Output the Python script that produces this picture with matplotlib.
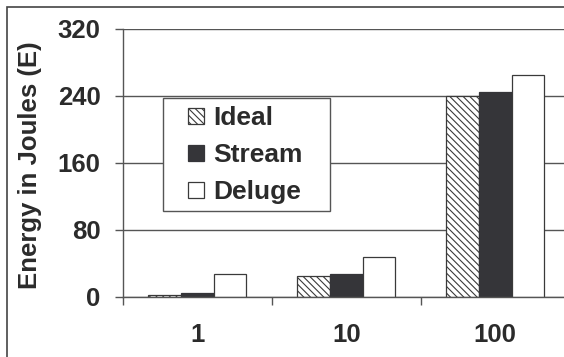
import numpy as np
import matplotlib
matplotlib.use("Agg")
import matplotlib.pyplot as plt
import matplotlib.patches as ptch

plt.rcParams['font.family'] = ['Liberation Sans', 'DejaVu Sans']
plt.rcParams['font.weight'] = 'bold'
plt.rcParams['axes.labelweight'] = 'bold'
plt.rcParams['hatch.linewidth'] = 0.8

# data
categories = ['1', '10', '100']
series = ['Ideal', 'Stream', 'Deluge']
ideal = [2, 25, 240]
stream = [5, 27, 244]
deluge = [27, 48, 265]
y_ticks = [0, 80, 160, 240, 320]

txt = '#2b2b2b'
line = '#555555'

fig = plt.figure(figsize=(5.64, 3.57), dpi=100)
ax = fig.add_axes([0.2176, 0.1689, 1.0101 - 0.2176, 0.9196 - 0.1689])

x = np.arange(len(categories))
w = 0.22
ax.bar(x - w, ideal, w, color='white', edgecolor='#3a3a3a', hatch='\\\\\\\\\\',
       linewidth=0.9, label=series[0], zorder=2)
ax.bar(x, stream, w, color='#353539', edgecolor='#353539',
       linewidth=0.9, label=series[1], zorder=2)
ax.bar(x + w, deluge, w, color='white', edgecolor='#3a3a3a',
       linewidth=0.9, label=series[2], zorder=2)

ax.set_xlim(-0.5, 2.5)
ax.set_ylim(0, 320)
ax.set_yticks(y_ticks)
ax.set_xticks(x)
ax.set_xticklabels(categories)
ax.set_xticks([-0.5, 0.5, 1.5, 2.5], minor=True)
ax.tick_params(axis='x', which='major', length=0, pad=19, labelsize=18.5, labelcolor=txt)
ax.tick_params(axis='x', which='minor', length=6, width=1, color=line)
ax.tick_params(axis='y', length=6, width=1, color=line, pad=10, labelsize=18.5, labelcolor=txt)

ax.set_axisbelow(True)
ax.yaxis.grid(True, color=line, linewidth=1)
for s in ['top', 'right']:
    ax.spines[s].set_visible(False)
for s in ['left', 'bottom']:
    ax.spines[s].set_color(line)
    ax.spines[s].set_linewidth(1)

ax.set_ylabel('Energy in Joules (E)', fontsize=18.5, color=txt)
ax.yaxis.set_label_coords(-0.18, 0.49)

# legend frame drawn as a box, entries on top
ax.add_patch(ptch.Rectangle((0.090, 0.320), 0.374, 0.421, transform=ax.transAxes,
                            facecolor='white', edgecolor=line, linewidth=1, zorder=3))
leg = ax.legend(loc='upper left', bbox_to_anchor=(0.146, 0.712), frameon=False,
                fontsize=19, handlelength=0.62, handleheight=0.55, handletextpad=0.35,
                labelspacing=0.5, borderpad=0, borderaxespad=0)
leg.set_zorder(5)
for t in leg.get_texts():
    t.set_color(txt)

# outer border of the picture
fig.patches.append(ptch.Rectangle((0.013, -0.1), 1.2, 0.981 + 0.1, transform=fig.transFigure,
                                  fill=False, edgecolor='#444444', linewidth=1.2))

fig.savefig('out.png', dpi=100)
